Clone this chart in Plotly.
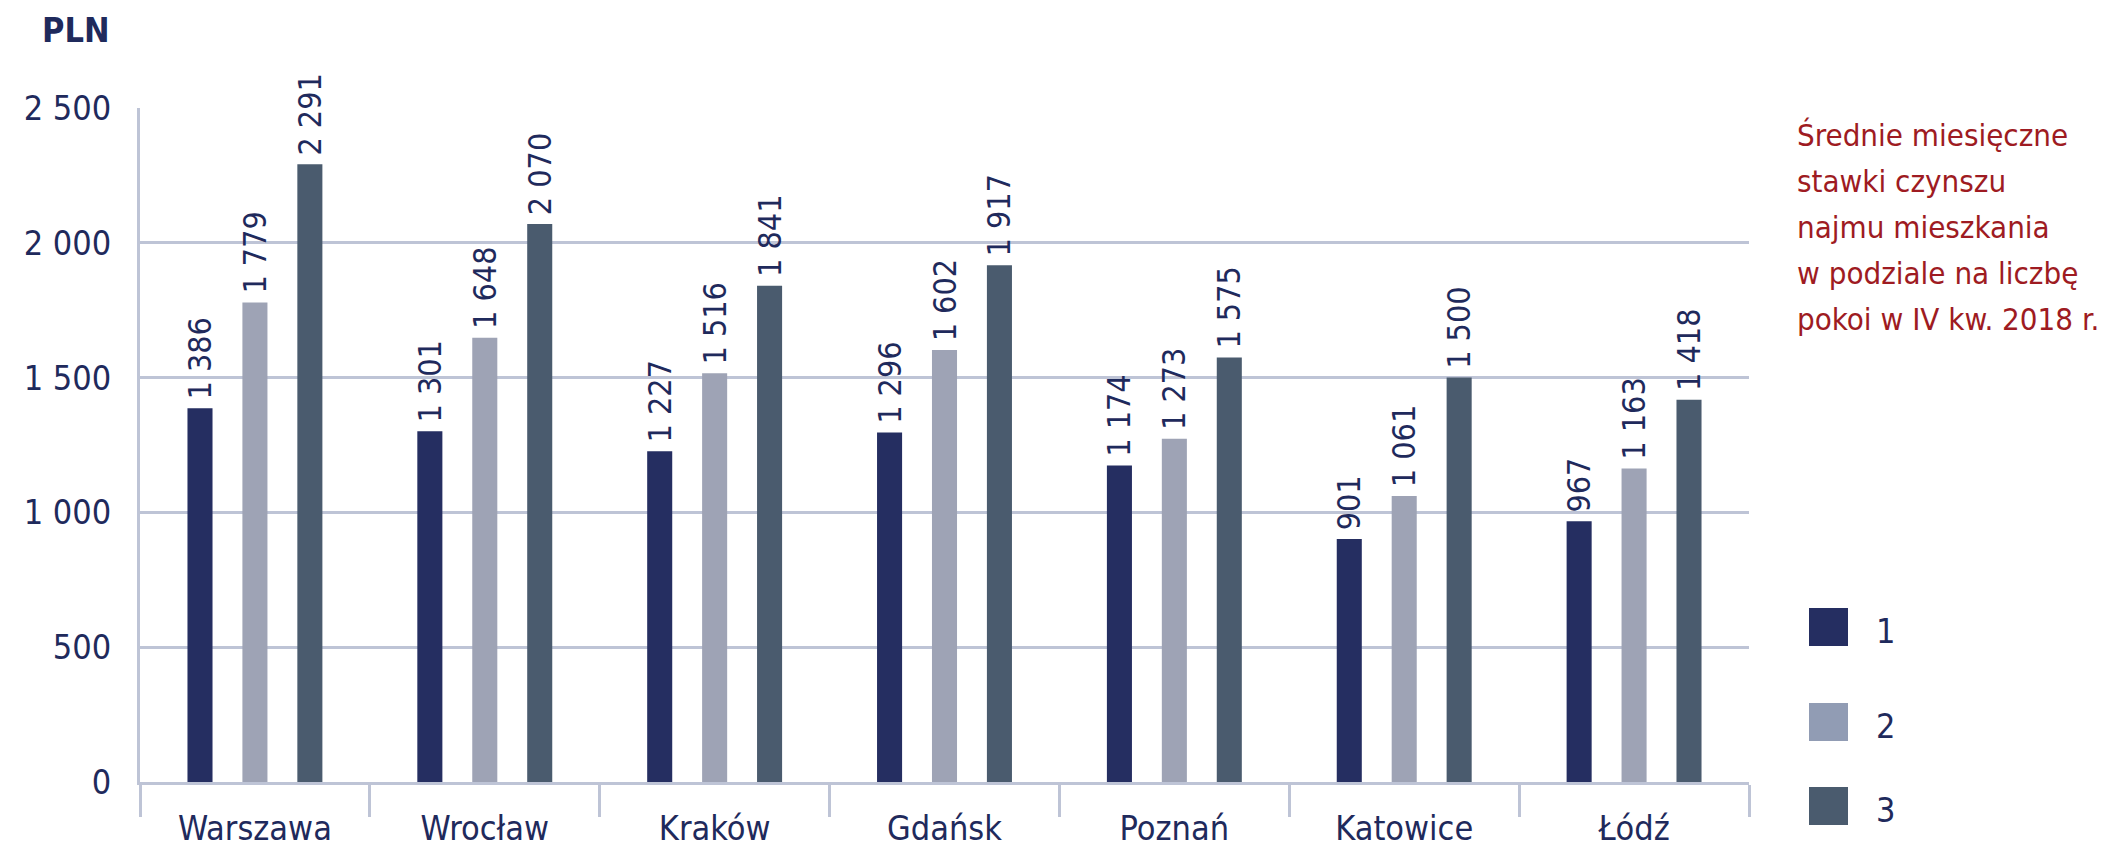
import plotly.graph_objects as go

cities = ["Warszawa", "Wrocław", "Kraków", "Gdańsk", "Poznań", "Katowice", "Łódź"]
rooms_1 = [1386, 1301, 1227, 1296, 1174, 901, 967]
rooms_2 = [1779, 1648, 1516, 1602, 1273, 1061, 1163]
rooms_3 = [2291, 2070, 1841, 1917, 1575, 1500, 1418]
series_names = ["1", "2", "3"]
y_ticks = [0, 500, 1000, 1500, 2000, 2500]
y_tick_text = ["0", "500", "1 000", "1 500", "2 000", "2 500"]
title_lines = ["Średnie miesięczne", "stawki czynszu", "najmu mieszkania",
               "w podziale na liczbę", "pokoi w IV kw. 2018 r."]

colors = ["#252E61", "#9EA3B5", "#4A5B6E"]
legend_colors = ["#252E61", "#919CB4", "#4A5B6E"]
grid = "#BEC4D6"
navy = "#1F2A5C"
red = "#9E1B22"
FONT = "DejaVu Sans Condensed, DejaVu Sans, sans-serif"

# page has an 8px body margin, so the figure is made 16px smaller
OFF = 8
W, H = 2126 - 2 * OFF, 855 - 2 * OFF
L, T = 140 - OFF, 108 - OFF
R = W - (1749 - OFF)
B = H - (782 - OFF)
pw, ph = W - L - R, H - T - B


def px(x):
    # page pixel -> paper x
    return (x - OFF - L) / pw


def py(y):
    # page pixel -> paper y
    return (H - B - (y - OFF)) / ph


def fmt(v):
    # thin space in front keeps the label a bit off the bar top
    return "\u2009" + f"{v:,}".replace(",", " ")


fig = go.Figure()
for name, vals, col in zip(series_names, [rooms_1, rooms_2, rooms_3], colors):
    fig.add_trace(go.Bar(
        x=cities, y=vals, name=name,
        marker=dict(color=col, line=dict(width=0)),
        text=[fmt(v) for v in vals],
        textposition="outside", textangle=-90,
        textfont=dict(family=FONT, size=32, color=navy),
        cliponaxis=False, constraintext="none",
        showlegend=False,
    ))

# legend drawn by hand (big squares)
leg_y = [627, 722, 806]
for i, (name, col) in enumerate(zip(series_names, legend_colors)):
    fig.add_shape(type="rect", xref="paper", yref="paper",
                  x0=px(1809), x1=px(1848), y0=py(leg_y[i] - 19), y1=py(leg_y[i] + 19),
                  fillcolor=col, line=dict(width=0))
    fig.add_annotation(x=px(1874), y=py(leg_y[i] + 4), xref="paper", yref="paper",
                       text=name, showarrow=False, xanchor="left", yanchor="middle",
                       font=dict(family=FONT, size=34, color=navy))

# title, one line per annotation to keep the wide line spacing
for i, line in enumerate(title_lines):
    fig.add_annotation(
        x=px(1795), y=py(135 + 46 * i), xref="paper", yref="paper",
        text=line, showarrow=False, xanchor="left", yanchor="middle",
        font=dict(family=FONT, size=31, color=red))

fig.add_annotation(
    x=px(112), y=py(30), xref="paper", yref="paper",
    text="<b>PLN</b>", showarrow=False, xanchor="right", yanchor="middle",
    font=dict(family=FONT, size=34, color=navy))

fig.update_layout(
    width=W, height=H,
    margin=dict(l=L, r=R, t=T, b=B, autoexpand=False),
    paper_bgcolor="white", plot_bgcolor="white",
    barmode="group", bargap=0.283, bargroupgap=0.544,
    font=dict(family=FONT, color=navy),
)
fig.update_xaxes(
    showline=True, linecolor=grid, linewidth=3,
    ticks="outside", tickson="boundaries", ticklen=32, tickwidth=3, tickcolor=grid,
    ticklabelstandoff=14,
    showgrid=False, tickfont=dict(family=FONT, size=34, color=navy),
)
fig.update_yaxes(
    range=[0, 2500], tickvals=y_ticks, ticktext=y_tick_text,
    showline=True, linecolor=grid, linewidth=3, zeroline=False,
    showgrid=False, ticks="", ticklabelstandoff=19,
    tickfont=dict(family=FONT, size=34, color=navy),
    minor=dict(tickvals=[500, 1000, 1500, 2000], showgrid=True,
               gridcolor=grid, gridwidth=3, ticks=""),
)

fig.write_html("out.html")
